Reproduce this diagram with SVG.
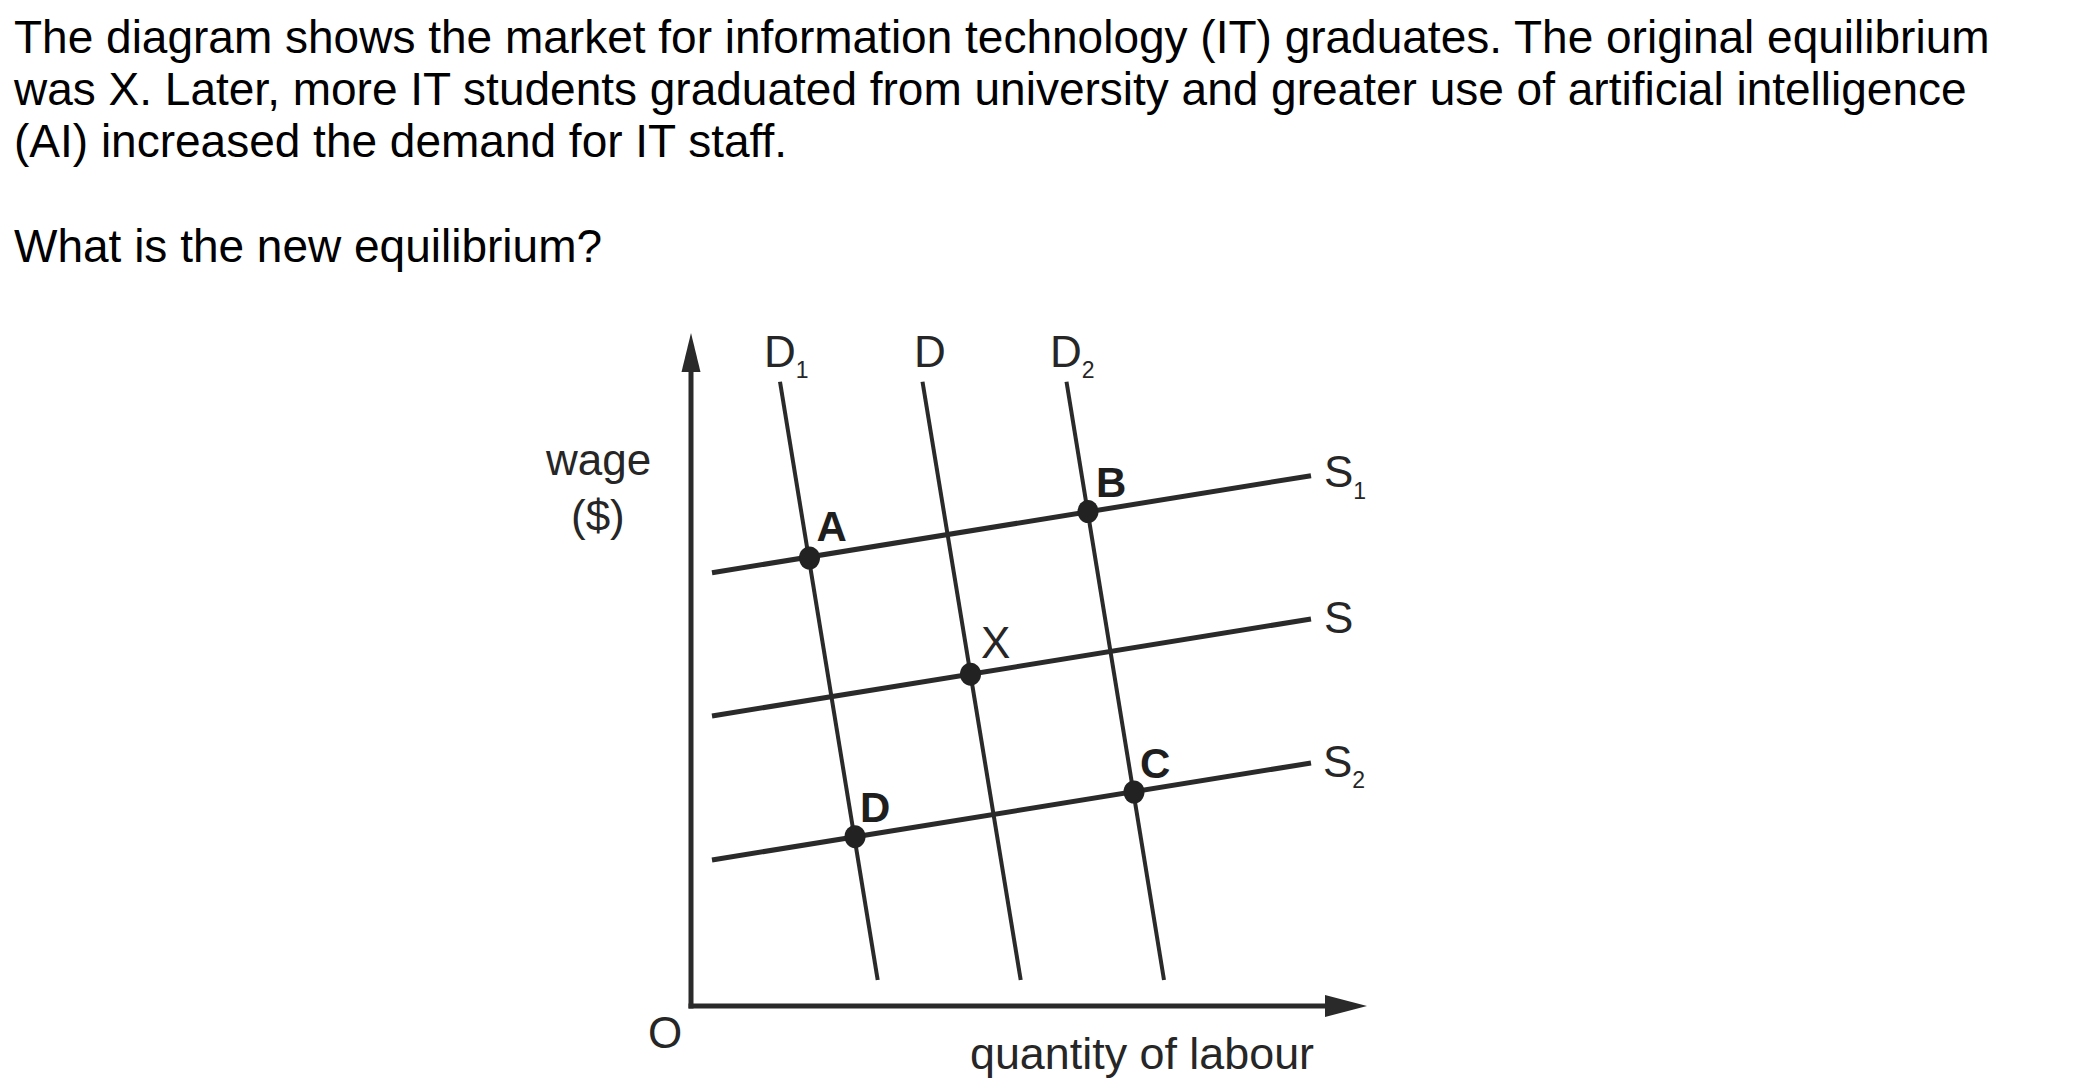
<svg xmlns="http://www.w3.org/2000/svg" width="2100" height="1088" viewBox="0 0 2100 1088">
<style>
.q{font-family:"Liberation Sans",Arial,sans-serif;font-size:46px;fill:#000}
.lb{font-family:"Liberation Sans",Arial,sans-serif;font-size:44px;fill:#262626}
.sub{font-size:23px}
.pt{font-family:"Liberation Sans",Arial,sans-serif;font-size:42px;font-weight:bold;fill:#1e1e1e}
.ax{stroke:#2a2a2a;stroke-width:5;fill:none}
.ah{fill:#2a2a2a}
.dm{stroke:#2a2a2a;stroke-width:4;fill:none;stroke-linecap:butt}
.sp{stroke:#2a2a2a;stroke-width:5;fill:none;stroke-linecap:butt}
.dot{fill:#222}
</style>
<rect width="2100" height="1088" fill="#fff"/>
<g id="question">
<text class="q" x="14" y="53">The diagram shows the market for information technology (IT) graduates. The original equilibrium</text>
<text class="q" x="14" y="105">was X. Later, more IT students graduated from university and greater use of artificial intelligence</text>
<text class="q" x="14" y="157">(AI) increased the demand for IT staff.</text>
<text class="q" x="14" y="262">What is the new equilibrium?</text>
</g>
<g id="axes">
<line class="ax" x1="691" y1="1008.5" x2="691" y2="368"/>
<polygon class="ah" points="691,333 681.5,372 700.5,372"/>
<line class="ax" x1="688.5" y1="1006" x2="1328" y2="1006"/>
<polygon class="ah" points="1367,1006 1325,995 1325,1017"/>
<text class="lb" x="546" y="475">wage</text>
<text class="lb" x="571" y="531">($)</text>
<text class="lb" x="648" y="1048">O</text>
<text class="lb" x="970" y="1069" textLength="344" lengthAdjust="spacingAndGlyphs">quantity of labour</text>
</g>
<g id="connectors">
<g id="demand-curves">
<line class="dm" x1="780" y1="381.7" x2="877.7" y2="980"/>
<line class="dm" x1="922.5" y1="381.7" x2="1020.7" y2="980"/>
<line class="dm" x1="1066.5" y1="381.7" x2="1164" y2="980"/>
</g>
<g id="supply-curves">
<line class="sp" x1="712" y1="572.7" x2="1311" y2="475.7"/>
<line class="sp" x1="712" y1="716" x2="1311" y2="619"/>
<line class="sp" x1="712" y1="860" x2="1311" y2="763"/>
</g>
</g>
<g id="curve-labels">
<g id="label-D1"><text class="lb" x="764" y="367">D<tspan class="sub" dy="11">1</tspan></text></g>
<g id="label-D"><text class="lb" x="914" y="367">D</text></g>
<g id="label-D2"><text class="lb" x="1050" y="367">D<tspan class="sub" dy="11">2</tspan></text></g>
<g id="label-S1"><text class="lb" x="1324" y="487">S<tspan class="sub" dy="12">1</tspan></text></g>
<g id="label-S"><text class="lb" x="1324" y="633">S</text></g>
<g id="label-S2"><text class="lb" x="1323" y="777">S<tspan class="sub" dy="11">2</tspan></text></g>
</g>
<g id="point-A"><ellipse class="dot" cx="809.5" cy="558" rx="10.5" ry="11.5"/><text class="pt" x="816.5" y="541">A</text></g>
<g id="point-B"><ellipse class="dot" cx="1088" cy="511.5" rx="10.5" ry="11.5"/><text class="pt" x="1096" y="497">B</text></g>
<g id="point-X"><ellipse class="dot" cx="970.5" cy="674.2" rx="10.5" ry="11.5"/><text class="lb" x="981" y="658">X</text></g>
<g id="point-C"><ellipse class="dot" cx="1134" cy="792" rx="10.5" ry="11.5"/><text class="pt" x="1140" y="778">C</text></g>
<g id="point-D"><ellipse class="dot" cx="855" cy="836.7" rx="10.5" ry="11.5"/><text class="pt" x="860" y="822">D</text></g>
</svg>
